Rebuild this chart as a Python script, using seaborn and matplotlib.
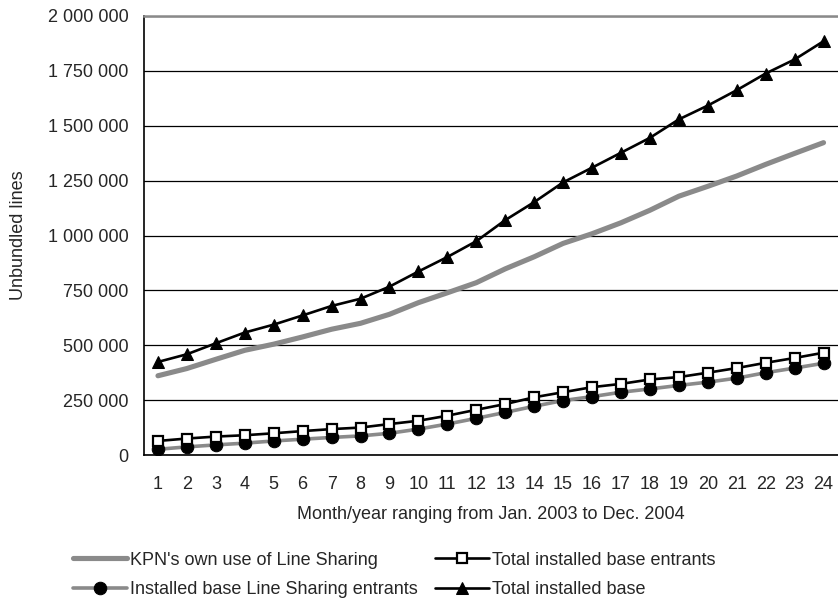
import numpy as np
import pandas as pd
import matplotlib
matplotlib.use("Agg")
import matplotlib.pyplot as plt
from matplotlib.ticker import FuncFormatter, FixedLocator
import seaborn as sns

# 数据
months = list(range(1, 25))
kpn_own = [361000, 394000, 436000, 477000, 505000, 538000, 573000, 600000, 641000, 694000,
           739000, 785000, 848000, 903000, 964000, 1008000, 1058000, 1115000, 1179000, 1224000,
           1271000, 1324000, 1374000, 1423000]
ls_entrants = [26000, 37000, 46000, 54000, 64000, 72000, 80000, 87000, 99000, 118000,
               141000, 167000, 194000, 222000, 248000, 266000, 286000, 301000, 317000, 332000,
               350000, 375000, 396000, 418000]
total_entrants = [64000, 75000, 84000, 90000, 99000, 109000, 118000, 125000, 141000, 156000,
                  179000, 206000, 232000, 263000, 286000, 309000, 324000, 344000, 355000, 375000,
                  396000, 420000, 442000, 466000]
total_base = [424000, 459000, 509000, 558000, 594000, 636000, 679000, 712000, 767000, 836000,
              902000, 974000, 1070000, 1152000, 1242000, 1309000, 1377000, 1445000, 1529000, 1592000,
              1662000, 1738000, 1802000, 1885000]
y_ticks = [0, 250000, 500000, 750000, 1000000, 1250000, 1500000, 1750000, 2000000]

sns.set_style("white")
plt.rcParams['font.family'] = ['Liberation Sans', 'DejaVu Sans']
FS = 13

fig = plt.figure(figsize=(8.38, 6.02), dpi=100)
ax = fig.add_axes([143.5 / 838, 1 - 455 / 602, (838 - 143.5) / 838, (455 - 16) / 602])

df = pd.DataFrame({"Month": months, "kpn": kpn_own, "ls": ls_entrants,
                   "tot_ent": total_entrants, "tot": total_base})

gray = "#8a8a8a"
sns.lineplot(data=df, x="Month", y="kpn", ax=ax, color=gray, linewidth=3.7,
             label="KPN's own use of Line Sharing", zorder=3)
sns.lineplot(data=df, x="Month", y="ls", ax=ax, color=gray, linewidth=2.6,
             marker="o", markersize=9, markerfacecolor="black", markeredgecolor="black",
             label="Installed base Line Sharing entrants", zorder=4)
sns.lineplot(data=df, x="Month", y="tot_ent", ax=ax, color="black", linewidth=1.9,
             marker="s", markersize=7.5, markerfacecolor="white", markeredgecolor="black",
             markeredgewidth=1.6, label="Total installed base entrants", zorder=5)
sns.lineplot(data=df, x="Month", y="tot", ax=ax, color="black", linewidth=1.9,
             marker="^", markersize=9, markerfacecolor="black", markeredgecolor="black",
             label="Total installed base", zorder=6)

ax.set_xlim(0.5, 24.5)
ax.set_ylim(0, 2000000)
ax.set_yticks(y_ticks)
ax.yaxis.set_major_formatter(FuncFormatter(lambda v, p: f"{int(v):,}".replace(",", " ")))
ax.set_xticks(months)
ax.xaxis.set_minor_locator(FixedLocator(np.arange(0.5, 25, 1)))
ax.tick_params(axis="x", which="major", length=0, labelsize=FS, pad=15)
ax.tick_params(axis="x", which="minor", length=3.8, width=1, color="black", direction="out")
ax.tick_params(axis="y", which="major", length=4.3, width=1, color="black", direction="out",
               labelsize=FS, pad=6.5)
ax.grid(axis="y", color="black", linewidth=0.9)
ax.set_axisbelow(True)

for s in ["left", "bottom"]:
    ax.spines[s].set_color("black")
    ax.spines[s].set_linewidth(1.2)
ax.spines["top"].set_color(gray)
ax.spines["top"].set_linewidth(1.8)
ax.spines["right"].set_visible(False)

ax.set_xlabel("Month/year ranging from Jan. 2003 to Dec. 2004", fontsize=FS)
ax.set_ylabel("Unbundled lines", fontsize=FS)
ax.xaxis.set_label_coords(0.5, -(506 - 455) / 439)
ax.yaxis.set_label_coords((27 - 143.5) / 694.5, 0.5)

handles, labels = ax.get_legend_handles_labels()
ax.get_legend().remove()
leg_kw = dict(frameon=False, fontsize=FS, handlelength=3.0, handletextpad=0.15,
              labelspacing=0.7, borderpad=0, borderaxespad=0, loc="center left")
leg1 = fig.legend(handles[:2], labels[:2], bbox_to_anchor=(73 / 838, 1 - 575 / 602), **leg_kw)
leg2 = fig.legend(handles[2:], labels[2:], bbox_to_anchor=(435 / 838, 1 - 575 / 602), **leg_kw)

fig.savefig("out.png", dpi=100)
